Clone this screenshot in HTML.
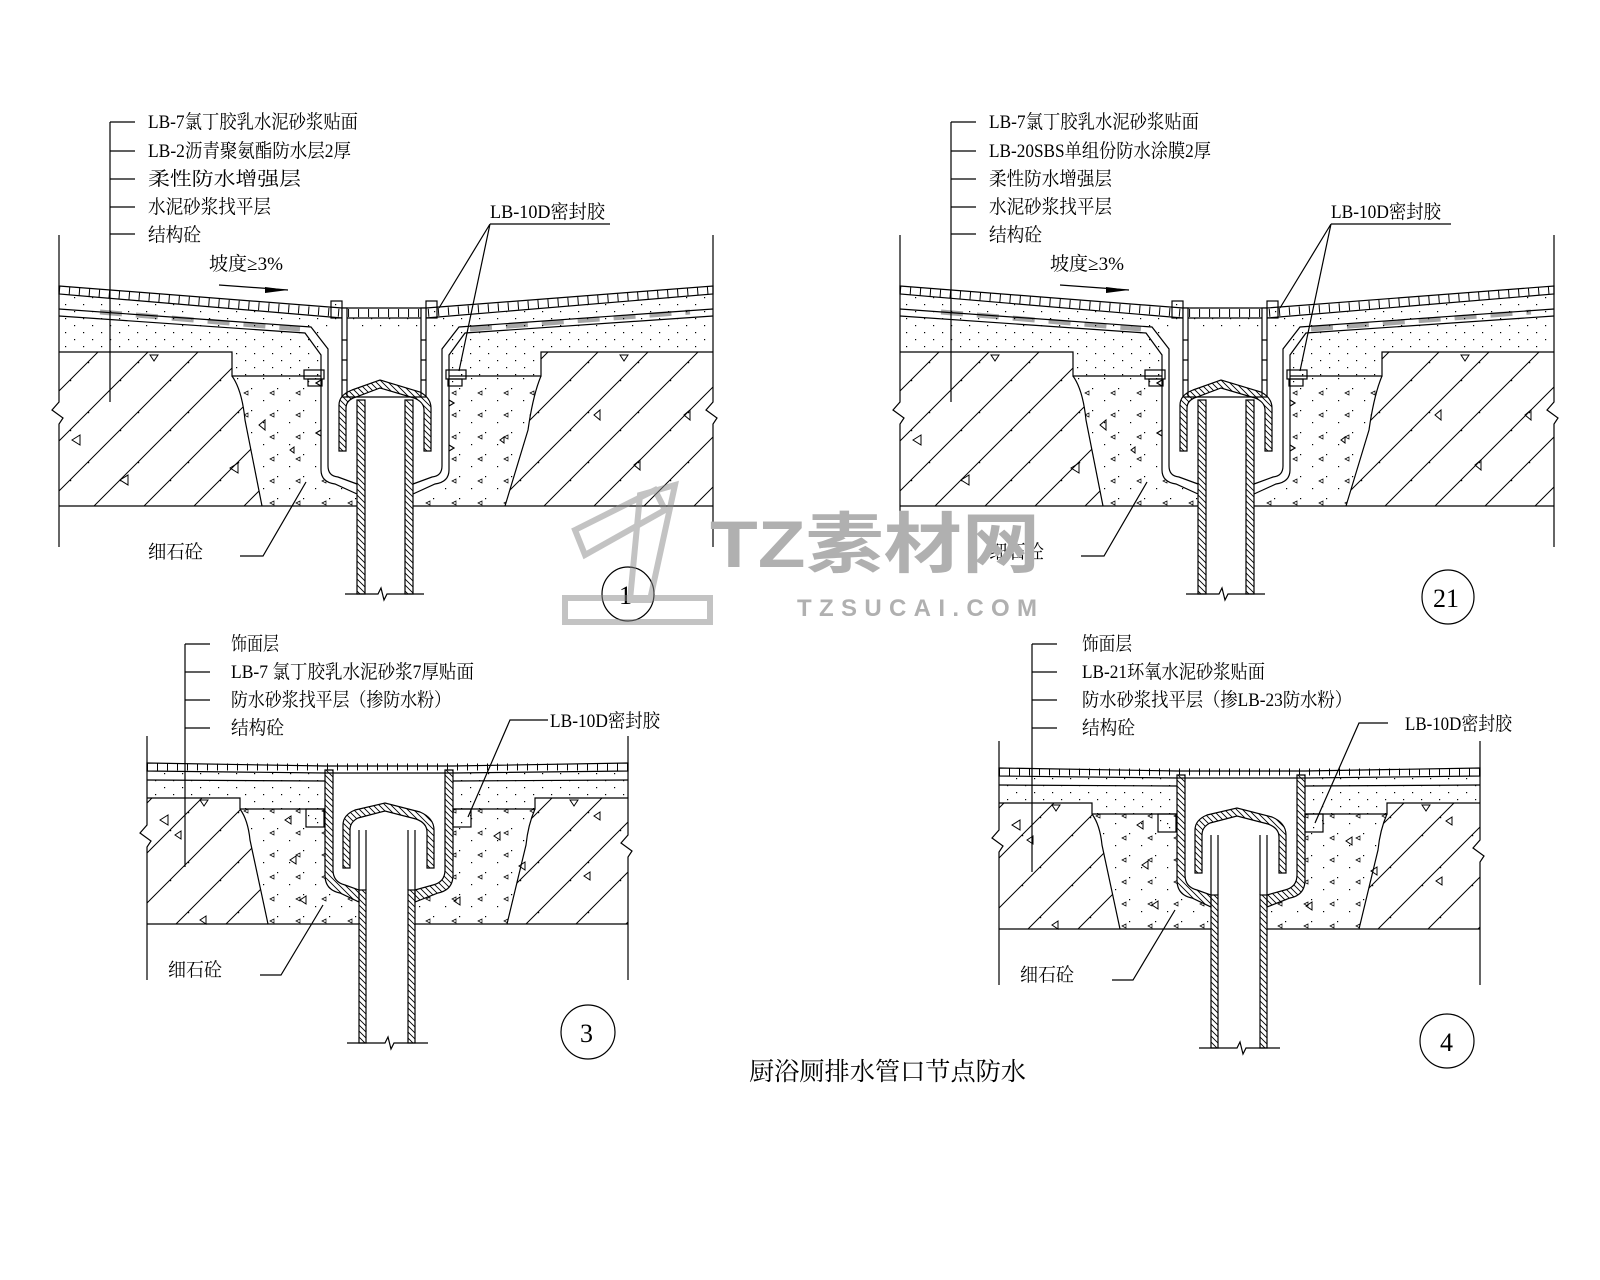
<!DOCTYPE html>
<html><head><meta charset="utf-8"><style>
html,body{margin:0;padding:0;background:#fff;}
svg{display:block;}
text.t{font-family:"Liberation Serif","Noto Serif CJK SC","Noto Sans CJK SC",serif;fill:#000;}
</style></head><body>
<svg width="1600" height="1280" viewBox="0 0 1600 1280" xmlns="http://www.w3.org/2000/svg">
<defs>
<pattern id="dots" width="18" height="14" patternUnits="userSpaceOnUse">
<rect x="2" y="3" width="1.2" height="1.2" fill="#000"/><rect x="11" y="10" width="1.2" height="1.2" fill="#000"/>
</pattern>
<pattern id="dots2" width="26" height="22" patternUnits="userSpaceOnUse">
<rect x="3" y="4" width="1.2" height="1.2" fill="#000"/><rect x="17" y="14" width="1.2" height="1.2" fill="#000"/><path d="M10,19 l4,-2 l0,4z" fill="none" stroke="#000" stroke-width="0.7"/>
</pattern>
<pattern id="hatch" width="50" height="50" patternUnits="userSpaceOnUse">
<path d="M0,50 L50,0 M-5,5 L5,-5 M45,55 L55,45" stroke="#000" stroke-width="1"/>
<rect x="20" y="30" width="1.2" height="1.2" fill="#000"/><rect x="38" y="12" width="1.2" height="1.2" fill="#000"/>
</pattern>
<pattern id="sh" width="6" height="6" patternUnits="userSpaceOnUse">
<path d="M0,0 L6,6 M-3,3 L3,9 M3,-3 L9,3" stroke="#000" stroke-width="0.9"/>
</pattern>

<g id="A">
<path d="M59,352 L232,352 L232,376 Q242,390 245,420 L262,506 L59,506 Z" fill="url(#hatch)"/>
<path d="M713,352 L541,352 L541,376 Q533,395 528,430 L505,506 L713,506 Z" fill="url(#hatch)"/>
<path d="M232,376 L541,376 Q533,395 528,430 L505,506 L262,506 L245,420 Q242,390 232,376 Z" fill="url(#dots2)"/>
<path d="M59,294 L342,318 L426,318 L713,294 L713,352 L541,352 L541,376 L232,376 L232,352 L59,352Z" fill="url(#dots)"/>
<path d="M321,330 L449,330 L449,470 Q449,482 435,484 L413,494 L413,594 L357,594 L357,494 L335,484 Q321,482 321,470Z" fill="#fff"/>
<g fill="none" stroke="#000" stroke-width="1.2">
<path d="M59,352 L232,352 L232,376 L321,376 M449,376 L541,376 L541,352 L713,352"/>
<path d="M59,506 L357,506 M413,506 L713,506"/>
<path d="M232,376 Q242,390 245,420 L262,506 M541,376 Q533,395 528,430 L505,506"/>
<path d="M59,286 L342,308 L426,308 L713,286 L713,294 L426,318 L342,318 L59,294Z" fill="#fff"/>
<path d="M59,290 L342,313 L426,313 L713,290" stroke-width="8" stroke-dasharray="1 9"/>
<path d="M59,309 L311,327 L328,349 L328,363 M59,316 L305,333 L321,355 L321,363"/>
<path d="M713,309 L459,327 L442,349 L442,363 M713,316 L465,333 L449,355 L449,363"/>
<path d="M100,312 L300,329 M470,329 L690,312" stroke-width="5" stroke-dasharray="22 14" opacity="0.35"/>
<path d="M59,235 L59,402 L52,410 L63,418 L59,424 L59,547 M713,235 L713,402 L706,410 L717,418 L713,424 L713,547"/>
<rect x="304" y="370" width="20" height="9" fill="url(#dots)"/><rect x="308" y="379" width="14" height="7" fill="url(#dots)"/>
<rect x="446" y="370" width="20" height="9" fill="url(#dots)"/><rect x="448" y="379" width="14" height="7" fill="url(#dots)"/>
<rect x="331" y="301" width="11" height="17" fill="url(#dots)"/><rect x="426" y="301" width="11" height="17" fill="url(#dots)"/>
<rect x="342" y="308" width="5" height="89" fill="#fff"/><rect x="421" y="308" width="5" height="89" fill="#fff"/>
<path d="M342,340 h5 M342,360 h5 M342,380 h5 M421,340 h5 M421,360 h5 M421,380 h5"/>
<path d="M347,397 L421,397"/>
<path d="M321,363 L321,470 Q321,482 335,484 L357,494 M328,363 L328,466 Q328,476 338,477 L357,484"/>
<path d="M449,363 L449,470 Q449,482 435,484 L413,494 M442,363 L442,466 Q442,476 432,477 L413,484"/>
<path d="M321,380 l-5,3 l5,3 M321,430 l-5,3 l5,3 M449,400 l5,3 l-5,3 M449,445 l5,3 l-5,3"/>
<rect x="357" y="400" width="8" height="194" fill="url(#sh)"/><rect x="405" y="400" width="8" height="194" fill="url(#sh)"/>
<path d="M339,451 L339,405 Q339,395 352,390 L380,380 L420,392 Q431,398 431,408 L431,451 L424,451 L424,410 Q424,402 414,398 L380,388 L356,397 Q346,400 346,408 L346,451 Z" fill="url(#sh)"/>
<path d="M345,594 L378,594 L381,588 L384,600 L387,594 L424,594"/>
</g>
<g fill="none" stroke="#000" stroke-width="1">
<path d="M72,440 l8,-5 l0,10z M120,480 l8,-5 l0,10z M230,468 l8,-5 l0,10z M265,430 l-6,-5 l6,-5z M600,420 l-6,-5 l6,-5z M690,420 l-6,-5 l6,-5z M640,470 l-6,-5 l6,-5z M150,355 l4,6 l4,-6z M620,355 l4,6 l4,-6z M290,450 l4,-3 l0,6z M500,440 l4,-3 l0,6z"/>
</g>
</g>

<g id="B">
<path d="M147,798 L240,798 L240,809 Q248,820 250,840 L268,924 L147,924 Z" fill="url(#hatch)"/>
<path d="M628,798 L535,798 L535,809 Q528,825 526,845 L507,924 L628,924 Z" fill="url(#hatch)"/>
<path d="M240,809 L535,809 Q528,825 526,845 L507,924 L268,924 L250,840 Q248,820 240,809Z" fill="url(#dots2)"/>
<path d="M147,770 L628,770 L628,798 L535,798 L535,809 L240,809 L240,798 L147,798Z" fill="url(#dots)"/>
<path d="M325,770 L453,770 L453,875 Q453,890 438,893 L415,902 L415,1043 L359,1043 L359,902 L340,893 Q325,890 325,875Z" fill="#fff"/>
<g fill="none" stroke="#000" stroke-width="1.2">
<path d="M147,798 L240,798 L240,809 L325,809 M453,809 L535,809 L535,798 L628,798"/>
<path d="M147,924 L359,924 M415,924 L628,924"/>
<path d="M240,809 Q248,820 250,840 L268,924 M535,809 Q528,825 526,845 L507,924"/>
<path d="M147,763 L325,766 L453,766 L628,763 L628,771 L453,773 L325,773 L147,771Z" fill="#fff"/>
<path d="M147,767 L628,767" stroke-width="7" stroke-dasharray="1 9"/>
<path d="M147,780 L325,781 M453,781 L628,780"/>
<path d="M147,736 L147,825 L140,833 L151,841 L147,847 L147,980 M628,736 L628,835 L621,843 L632,851 L628,857 L628,980"/>
<rect x="306" y="809" width="18" height="18" fill="url(#dots)"/><rect x="453" y="809" width="18" height="18" fill="url(#dots)"/>
<path d="M325,770 L325,875 Q325,890 340,893 L359,902 L359,890 L345,885 Q333,882 333,870 L333,770Z" fill="url(#sh)"/>
<path d="M453,770 L453,875 Q453,890 438,893 L415,902 L415,890 L433,885 Q445,882 445,870 L445,770Z" fill="url(#sh)"/>
<rect x="359" y="890" width="7" height="153" fill="url(#sh)"/><rect x="408" y="890" width="7" height="153" fill="url(#sh)"/>
<path d="M359,830 L359,890 M366,830 L366,890 M408,830 L408,890 M415,830 L415,890"/>
<path d="M343,868 L343,825 Q343,815 355,810 L385,803 L420,812 Q434,818 434,830 L434,868 L427,868 L427,832 Q427,823 416,819 L385,811 L358,818 Q350,822 350,830 L350,868Z" fill="url(#sh)"/>
<path d="M347,1043 L385,1043 L388,1037 L391,1049 L394,1043 L428,1043"/>
</g>
<g fill="none" stroke="#000" stroke-width="1">
<path d="M160,820 l8,-5 l0,10z M175,835 l6,-4 l0,8z M200,920 l6,-4 l0,8z M285,820 l6,-4 l0,8z M290,860 l6,-4 l0,8z M300,900 l6,-4 l0,8z M500,840 l-6,-4 l6,-4z M525,870 l-6,-4 l6,-4z M600,820 l-6,-4 l6,-4z M590,880 l-6,-4 l6,-4z M460,905 l-6,-4 l6,-4z M200,800 l4,6 l4,-6z M570,800 l4,6 l4,-6z"/>
</g>
</g>
</defs>

<use href="#A"/>
<use href="#A" x="841"/>
<use href="#B"/>
<use href="#B" x="852" y="5"/>

<g fill="none" stroke="#000" stroke-width="1.2">
<path d="M110,122 L110,402 M110,122 h25 M110,151 h25 M110,179 h25 M110,207 h25 M110,234 h25"/>
<path d="M490,224 L610,224 M490,224 L439,308 M490,224 L459,371"/>
<path d="M219,285 L288,290"/>
<path d="M240,556 L263,556 L306,482"/>
<ellipse cx="628" cy="594" rx="26" ry="27"/>
<path d="M951,122 L951,402 M951,122 h25 M951,151 h25 M951,179 h25 M951,207 h25 M951,234 h25"/>
<path d="M1331,224 L1451,224 M1331,224 L1280,308 M1331,224 L1300,371"/>
<path d="M1060,285 L1129,290"/>
<path d="M1081,556 L1104,556 L1147,482"/>
<ellipse cx="1448" cy="597" rx="26" ry="27"/>
<path d="M185,644 L185,867 M185,644 h25 M185,672 h25 M185,700 h25 M185,728 h25"/>
<path d="M548,720 L510,720 L468,817"/>
<path d="M260,975 L281,975 L323,905"/>
<ellipse cx="588" cy="1032" rx="27" ry="27"/>
<path d="M1032,644 L1032,872 M1032,644 h25 M1032,672 h25 M1032,700 h25 M1032,728 h25"/>
<path d="M1388,723 L1359,723 L1315,823"/>
<path d="M1112,980 L1133,980 L1175,910"/>
<ellipse cx="1447" cy="1041" rx="27" ry="27"/>
</g>
<path d="M265,287 L288,290 L265,293Z M1106,287 L1129,290 L1106,293Z" fill="#000"/>

<g font-size="19">
<text class="t" x="148" y="128" textLength="210" lengthAdjust="spacingAndGlyphs">LB-7氯丁胶乳水泥砂浆贴面</text>
<text class="t" x="148" y="157" textLength="203" lengthAdjust="spacingAndGlyphs">LB-2沥青聚氨酯防水层2厚</text>
<text class="t" x="148" y="185" textLength="153" lengthAdjust="spacingAndGlyphs">柔性防水增强层</text>
<text class="t" x="148" y="213" textLength="123" lengthAdjust="spacingAndGlyphs">水泥砂浆找平层</text>
<text class="t" x="148" y="241" textLength="53" lengthAdjust="spacingAndGlyphs">结构砼</text>
<text class="t" x="490" y="218" textLength="115" lengthAdjust="spacingAndGlyphs">LB-10D密封胶</text>
<text class="t" x="209" y="270" textLength="74" lengthAdjust="spacingAndGlyphs">坡度≥3%</text>
<text class="t" x="148" y="558" textLength="55" lengthAdjust="spacingAndGlyphs">细石砼</text>
<text class="t" x="619" y="604" font-size="26">1</text>

<text class="t" x="989" y="128" textLength="210" lengthAdjust="spacingAndGlyphs">LB-7氯丁胶乳水泥砂浆贴面</text>
<text class="t" x="989" y="157" textLength="222" lengthAdjust="spacingAndGlyphs">LB-20SBS单组份防水涂膜2厚</text>
<text class="t" x="989" y="185" textLength="123" lengthAdjust="spacingAndGlyphs">柔性防水增强层</text>
<text class="t" x="989" y="213" textLength="123" lengthAdjust="spacingAndGlyphs">水泥砂浆找平层</text>
<text class="t" x="989" y="241" textLength="53" lengthAdjust="spacingAndGlyphs">结构砼</text>
<text class="t" x="1331" y="218" textLength="110" lengthAdjust="spacingAndGlyphs">LB-10D密封胶</text>
<text class="t" x="1050" y="270" textLength="74" lengthAdjust="spacingAndGlyphs">坡度≥3%</text>
<text class="t" x="989" y="558" textLength="55" lengthAdjust="spacingAndGlyphs">细石砼</text>
<text class="t" x="1433" y="607" font-size="26">21</text>

<text class="t" x="231" y="650" textLength="48" lengthAdjust="spacingAndGlyphs">饰面层</text>
<text class="t" x="231" y="678" textLength="243" lengthAdjust="spacingAndGlyphs">LB-7 氯丁胶乳水泥砂浆7厚贴面</text>
<text class="t" x="231" y="706" textLength="220" lengthAdjust="spacingAndGlyphs">防水砂浆找平层（掺防水粉）</text>
<text class="t" x="231" y="734" textLength="53" lengthAdjust="spacingAndGlyphs">结构砼</text>
<text class="t" x="550" y="727" textLength="110" lengthAdjust="spacingAndGlyphs">LB-10D密封胶</text>
<text class="t" x="168" y="976" textLength="54" lengthAdjust="spacingAndGlyphs">细石砼</text>
<text class="t" x="580" y="1042" font-size="26">3</text>

<text class="t" x="1082" y="650" textLength="50" lengthAdjust="spacingAndGlyphs">饰面层</text>
<text class="t" x="1082" y="678" textLength="183" lengthAdjust="spacingAndGlyphs">LB-21环氧水泥砂浆贴面</text>
<text class="t" x="1082" y="706" textLength="270" lengthAdjust="spacingAndGlyphs">防水砂浆找平层（掺LB-23防水粉）</text>
<text class="t" x="1082" y="734" textLength="53" lengthAdjust="spacingAndGlyphs">结构砼</text>
<text class="t" x="1405" y="730" textLength="107" lengthAdjust="spacingAndGlyphs">LB-10D密封胶</text>
<text class="t" x="1020" y="981" textLength="54" lengthAdjust="spacingAndGlyphs">细石砼</text>
<text class="t" x="1440" y="1051" font-size="26">4</text>

<text class="t" x="749" y="1080" font-size="25" textLength="277" lengthAdjust="spacingAndGlyphs">厨浴厕排水管口节点防水</text>
</g>

<g opacity="0.5" fill="none" stroke="#888" stroke-width="6">
<path d="M575,530 L655,490 L665,510 L585,555Z"/>
<path d="M640,495 L675,485 L650,600 L630,600Z"/>
<path d="M565,598 L710,598 L710,622 L565,622Z"/>
</g>
<text x="710" y="567" style="font-family:'Liberation Sans','Noto Sans CJK SC',sans-serif;font-weight:bold;fill:#b0b0b0;" font-size="66" textLength="330" lengthAdjust="spacingAndGlyphs">TZ素材网</text>
<text x="797" y="616" style="font-family:'Liberation Sans',sans-serif;font-weight:bold;fill:#b0b0b0;" font-size="24" textLength="240" lengthAdjust="spacing">TZSUCAI.COM</text>
</svg>
</body></html>
